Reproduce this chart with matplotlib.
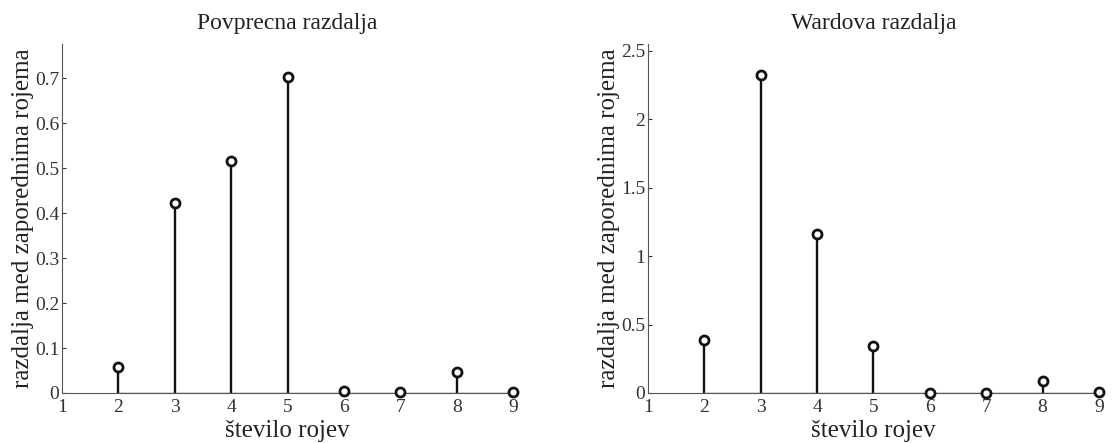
import matplotlib
matplotlib.use('Agg')
import matplotlib.pyplot as plt

plt.rcParams['font.family'] = ['Liberation Serif', 'DejaVu Serif']

n_clusters = [2, 3, 4, 5, 6, 7, 8, 9]
avg_dist = [0.058, 0.423, 0.515, 0.703, 0.004, 0.002, 0.046, 0.003]
ward_dist = [0.39, 2.32, 1.16, 0.34, 0.0, 0.0, 0.09, 0.01]

left_ticks = [0, 0.1, 0.2, 0.3, 0.4, 0.5, 0.6, 0.7]
left_tick_labels = ['0', '0.1', '0.2', '0.3', '0.4', '0.5', '0.6', '0.7']
right_ticks = [0, 0.5, 1, 1.5, 2, 2.5]
right_tick_labels = ['0', '0.5', '1', '1.5', '2', '2.5']

fig = plt.figure(figsize=(11.12, 4.43), dpi=100)
ax1 = fig.add_axes([0.0558, 0.1129, 0.4056, 0.7878])
ax2 = fig.add_axes([0.5827, 0.1129, 0.4056, 0.7878])


def draw(ax, vals, title, ticks, tick_labels, ytop):
    ml, sl, bl = ax.stem(n_clusters, vals, linefmt='k-', markerfmt='ko', basefmt='k-')
    plt.setp(sl, linewidth=1.7, color='#111111')
    plt.setp(ml, markerfacecolor='white', markeredgecolor='#111111',
             markersize=6.5, markeredgewidth=2.0, zorder=3, clip_on=False)
    plt.setp(bl, linewidth=1.0, color='#555555')
    ax.set_xlim(1, 9)
    ax.set_ylim(0, ytop)
    ax.set_xticks(range(1, 10))
    ax.set_yticks(ticks)
    ax.set_yticklabels(tick_labels)
    for s in ['top', 'right']:
        ax.spines[s].set_visible(False)
    for s in ['left', 'bottom']:
        ax.spines[s].set_linewidth(0.8)
        ax.spines[s].set_color('#555555')
    ax.tick_params(direction='in', length=3, labelsize=14, pad=2, colors='#333333')
    ax.tick_params(axis='x', length=0, pad=4)
    ax.set_title(title, fontsize=17, pad=11, color='#222222')
    ax.set_xlabel('število rojev', fontsize=18, labelpad=3, color='#222222')
    ax.set_ylabel('razdalja med zaporednima rojema', fontsize=18, labelpad=1, color='#222222')


draw(ax1, avg_dist, 'Povprecna razdalja', left_ticks, left_tick_labels, 0.776)
draw(ax2, ward_dist, 'Wardova razdalja', right_ticks, right_tick_labels, 2.55)

fig.savefig('out.png', dpi=100)
